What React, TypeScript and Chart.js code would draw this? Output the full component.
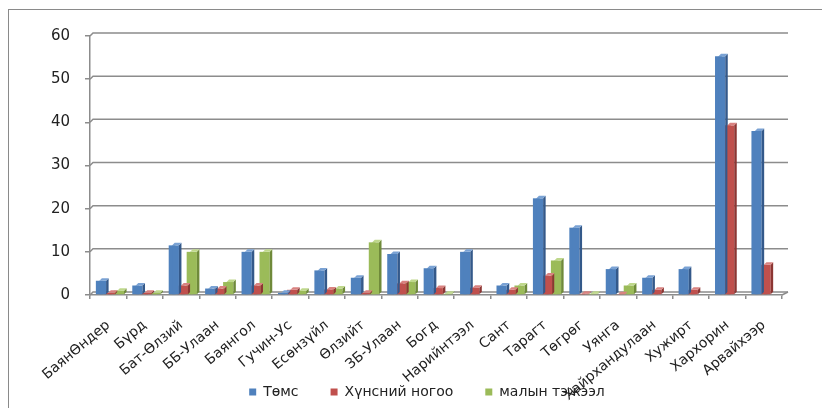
import React, { useEffect, useRef } from "react";
import { Chart, registerables } from "chart.js";

Chart.register(...registerables);

const categories = [
  "БаянӨндер", "Бүрд", "Бат-Өлзий", "ББ-Улаан", "Баянгол", "Гучин-Ус", "Есөнзүйл",
  "Өлзийт", "ЗБ-Улаан", "Богд", "Нарийнтээл", "Сант", "Тарагт", "Төгрөг", "Уянга",
  "Хайрхандулаан", "Хужирт", "Хархорин", "Арвайхээр",
];
const seriesNames = ["Төмс", "Хүнсний ногоо", "малын тэжээл"];
const potato = [3.3, 2.2, 11.5, 1.5, 10, 0.5, 5.7, 4, 9.5, 6.2, 10, 2.2, 22.4, 15.6, 6, 4, 6, 55.3, 38];
const vegetables = [0.5, 0.5, 2.2, 1.5, 2.2, 1.2, 1.3, 0.5, 2.7, 1.6, 1.7, 1.2, 4.5, 0.3, 0.2, 1.2, 1.2, 39.3, 7];
const fodder = [1, 0.5, 10, 3, 10, 1, 1.5, 12.2, 3, 0.3, 0, 2.2, 8, 0.3, 2.2, 0, 0, 0, 0];
const yMin = 0;
const yMax = 60;
const yStep = 10;

const FONT = "'DejaVu Sans', Verdana, sans-serif";
const GRID = "#8c8c8c";
const shades = [
  ["#4f81bd", "#34598a", "#7aa2d4"],
  ["#c0504d", "#8c3633", "#d98280"],
  ["#9bbb59", "#6f8a3a", "#bfd88c"],
];

const DEPTH = 3;
const SHIFT = 3.5;

const bar3d = {
  id: "bar3d",
  afterLayout(chart: any) {
    // let the rotated category labels use the space down to the canvas edge
    if (chart.scales.x) chart.scales.x.bottom = chart.height;
    if (chart.legend) {
      chart.legend.left += 36;
      chart.legend.right += 36;
      chart.legend.top += 1;
      chart.legend.bottom += 1;
    }
  },
  beforeDatasetsDraw(chart: any) {
    const ctx = chart.ctx;
    const ys = chart.scales.y;
    const { left, right } = chart.chartArea;
    ctx.save();
    ctx.strokeStyle = GRID;
    ctx.lineWidth = 1.5;
    ys.ticks.forEach((t: any) => {
      const y = ys.getPixelForValue(t.value);
      ctx.beginPath();
      ctx.moveTo(left, y);
      ctx.lineTo(left + DEPTH, y - DEPTH);
      ctx.lineTo(right + 6, y - DEPTH);
      ctx.stroke();
    });
    const y0 = ys.getPixelForValue(yMin);
    ctx.beginPath();
    ctx.moveTo(right, y0);
    ctx.lineTo(right + 6, y0 - DEPTH);
    ctx.stroke();
    ctx.restore();
  },
  afterDatasetsDraw(chart: any) {
    const ctx = chart.ctx;
    const d = 2.5;
    chart.data.datasets.forEach((ds: any, i: number) => {
      const meta = chart.getDatasetMeta(i);
      const [front, side, top] = shades[i];
      meta.data.forEach((el: any, j: number) => {
        const v = ds.data[j];
        if (!v) return;
        const { x, y, base, width } = el.getProps(["x", "y", "base", "width"], true);
        const l = x + SHIFT - width / 2;
        const r = x + SHIFT + width / 2;
        ctx.save();
        ctx.fillStyle = front;
        ctx.fillRect(l, y, width, base - y);
        ctx.fillStyle = side;
        ctx.beginPath();
        ctx.moveTo(r, y);
        ctx.lineTo(r + d, y - d);
        ctx.lineTo(r + d, base - d);
        ctx.lineTo(r, base);
        ctx.closePath();
        ctx.fill();
        ctx.fillStyle = top;
        ctx.beginPath();
        ctx.moveTo(l, y);
        ctx.lineTo(l + d, y - d);
        ctx.lineTo(r + d, y - d);
        ctx.lineTo(r, y);
        ctx.closePath();
        ctx.fill();
        ctx.restore();
      });
    });
  },
};

export default function App() {
  const ref = useRef<HTMLCanvasElement | null>(null);
  useEffect(() => {
    if (!ref.current) return;
    const chart = new Chart(ref.current, {
      type: "bar",
      data: {
        labels: categories,
        datasets: [
          { label: seriesNames[0], data: potato, backgroundColor: shades[0][0] },
          { label: seriesNames[1], data: vegetables, backgroundColor: shades[1][0] },
          { label: seriesNames[2], data: fodder, backgroundColor: shades[2][0] },
        ],
      },
      options: {
        responsive: false,
        animation: false,
        categoryPercentage: 0.74,
        barPercentage: 0.75,
        datasets: { bar: { backgroundColor: "rgba(0,0,0,0)" } } as any,
        layout: { padding: { left: 0, right: 40, top: 36, bottom: 0 } },
        plugins: {
          legend: {
            position: "bottom",
            labels: {
              boxWidth: 7,
              boxHeight: 7,
              padding: 32,
              color: "#222",
              font: { family: FONT, size: 14 },
            },
          },
          tooltip: { enabled: false },
        },
        scales: {
          x: {
            offset: true,
            grid: { display: true, drawOnChartArea: false, offset: true, tickLength: 4, color: GRID, lineWidth: 1.5 },
            border: { display: true, color: GRID, width: 1.5 },
            ticks: {
              autoSkip: false,
              maxRotation: 40,
              minRotation: 40,
              padding: 18,
              color: "#222",
              font: { family: FONT, size: 14 },
            },
            afterFit: (s: any) => {
              s.height = 57;
            },
          },
          y: {
            min: yMin,
            max: yMax,
            ticks: {
              stepSize: yStep,
              padding: 15,
              color: "#222",
              font: { family: FONT, size: 15 },
            },
            grid: { drawOnChartArea: false, color: GRID, lineWidth: 1.5, tickLength: 5 },
            border: { display: true, color: GRID, width: 1.5 },
            afterFit: (s: any) => {
              s.width = 90;
            },
          },
        },
      },
      plugins: [bar3d],
    });
    return () => chart.destroy();
  }, []);

  return (
    <div style={{ position: "fixed", left: 0, top: 0, width: 822, height: 408, overflow: "hidden", background: "#fff" }}>
      <div
        style={{
          position: "absolute",
          left: 8,
          top: 9,
          width: 1000,
          height: 1000,
          border: "1.5px solid #8a8a8a",
        }}
      />
      <canvas ref={ref} width={822} height={408} style={{ position: "absolute", left: 0, top: 0, width: 822, height: 408 }} />
    </div>
  );
}
